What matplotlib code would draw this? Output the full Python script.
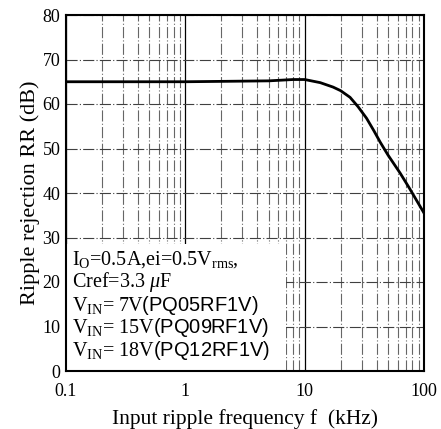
import matplotlib
matplotlib.use("Agg")
import matplotlib.pyplot as plt
from matplotlib.patches import Rectangle
import numpy as np

# curve
freq_khz = [0.1, 1, 5, 8, 10, 13.5, 17.3, 20, 24, 28, 33, 38, 43, 50, 63, 75, 100]
rr_db = [65, 65, 65.2, 65.5, 65.5, 64.8, 63.8, 63.0, 61.5, 59.4, 56.8, 54.0, 51.4, 48.5, 44.5, 41.2, 35.5]

x_ticks = [0.1, 1, 10, 100]
x_ticklabels = ["0.1", "1", "10", "100"]
y_ticks = [0, 10, 20, 30, 40, 50, 60, 70, 80]

note_lines = [
    r"I$_\mathrm{O}$=0.5A,ei=0.5V$_\mathrm{rms}$,",
    r"Cref=3.3 $\mathit{\mu}$F",
    r"V$_\mathrm{IN}$= 7V$\mathsf{(PQ05RF1V)}$",
    r"V$_\mathrm{IN}$= 15V$\mathsf{(PQ09RF1V)}$",
    r"V$_\mathrm{IN}$= 18V$\mathsf{(PQ12RF1V)}$",
]

plt.rcParams["font.family"] = ["Liberation Serif", "DejaVu Serif"]
plt.rcParams["mathtext.fontset"] = "custom"
plt.rcParams["mathtext.rm"] = "Liberation Serif"
plt.rcParams["mathtext.it"] = "Liberation Serif:italic"
plt.rcParams["mathtext.sf"] = "Liberation Sans"

fig = plt.figure(figsize=(4.41, 4.29), dpi=100)
ax = fig.add_axes([66 / 441, 1 - 371 / 429, (424 - 66) / 441, (371 - 15) / 429])

ax.set_xscale("log")
ax.set_xlim(0.1, 100)
ax.set_ylim(0, 80)

# log grid for x, 10 dB for y
ax.grid(True, which="major", axis="x", color="black", lw=0.9)
ax.grid(True, which="minor", axis="x", color="0.4", lw=0.8, ls=(0, (10, 2, 1, 2)))
ax.grid(True, which="major", axis="y", color="0.25", lw=0.8, ls=(0, (10, 2, 1, 2)))

# white patch behind the notes
ax.add_patch(Rectangle((0.1, 0), 6.9, 28.5, facecolor="white", edgecolor="none", zorder=2))

ax.plot(np.array(freq_khz), np.array(rr_db), color="black", lw=2, zorder=3)

ax.set_xticks(x_ticks)
ax.set_xticklabels(x_ticklabels)
ax.set_yticks(y_ticks)
ax.tick_params(which="both", length=0, labelsize=13)
ax.tick_params(axis="x", pad=9)
ax.tick_params(axis="y", pad=4)

for s in ax.spines.values():
    s.set_linewidth(1.5)
    s.set_zorder(4)

for i, line in enumerate(note_lines):
    ax.text(0.113, 25.0 - i * 5.1, line, fontsize=14.5, va="center", ha="left", zorder=5)

ax.set_xlabel("Input ripple frequency f  (kHz)", fontsize=15.5, labelpad=6)
ax.set_ylabel("Ripple rejection RR (dB)", fontsize=16, labelpad=2)

fig.savefig("out.png", dpi=100)
